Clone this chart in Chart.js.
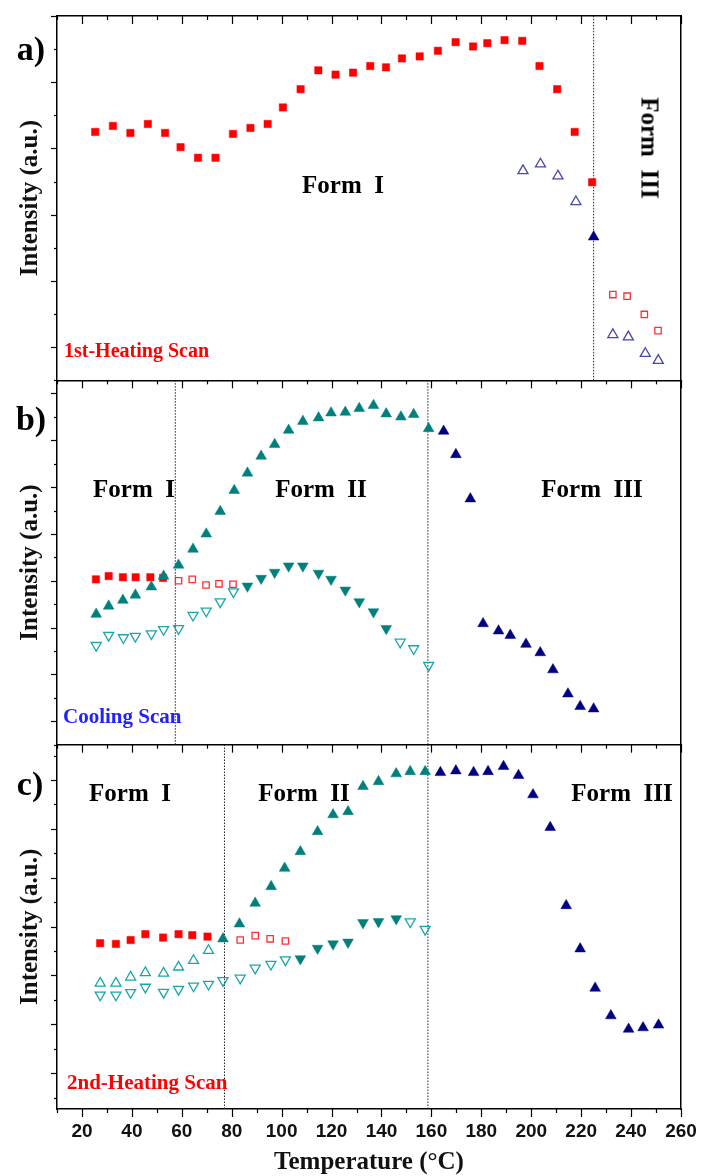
<!DOCTYPE html>
<html><head><meta charset="utf-8">
<script src="https://cdn.jsdelivr.net/npm/chart.js@4.4.1/dist/chart.umd.min.js"></script>
<style>
html,body{margin:0;padding:0;background:#fff;}
#wrap{position:relative;width:702px;height:1176px;overflow:hidden;background:#fff;}
canvas{position:absolute;left:0;top:0;}
.t{position:absolute;font-family:"Liberation Serif","Times New Roman",serif;font-weight:bold;white-space:pre;line-height:1;color:#000;}
.c{transform:translate(-50%,-50%);}
.l{transform:translate(0,-50%);}
</style></head><body>
<div id="wrap">
<canvas id="chart" width="702" height="1176"></canvas>
<div class="t c" style="left:31px;top:49px;font-size:34px">a)</div>
<div class="t c" style="left:31px;top:419px;font-size:34px">b)</div>
<div class="t c" style="left:30px;top:784px;font-size:34px">c)</div>
<div class="t c" style="left:343px;top:184px;font-size:25px">Form  I</div>
<div class="t" style="left:650px;top:148px;font-size:25px;transform:translate(-50%,-50%) rotate(90deg)">Form  III</div>
<div class="t l" style="left:64px;top:350px;font-size:20px;color:#ff0000">1st-Heating Scan</div>
<div class="t c" style="left:134px;top:488px;font-size:25px">Form  I</div>
<div class="t c" style="left:321px;top:488px;font-size:25px">Form  II</div>
<div class="t c" style="left:592px;top:488px;font-size:25px">Form  III</div>
<div class="t l" style="left:63px;top:716px;font-size:21px;color:#2222ff">Cooling Scan</div>
<div class="t c" style="left:130px;top:792px;font-size:25px">Form  I</div>
<div class="t c" style="left:304px;top:792px;font-size:25px">Form  II</div>
<div class="t c" style="left:622px;top:792px;font-size:25px">Form  III</div>
<div class="t l" style="left:67px;top:1082px;font-size:21px;color:#ff0000">2nd-Heating Scan</div>
</div>
<script>
// ---------- x axis ----------
const xMin = 10, xMax = 260, xStep = 10;
// ---------- panel ranges (arbitrary intensity units) ----------
const aRange = [0, 11];
const bRange = [0, 15.56];
const cRange = [-0.47, 14.45];

// ---------- panel a : 1st heating ----------
const aRedT = [25.3,32.4,39.4,46.4,53.3,59.5,66.5,73.5,80.5,87.5,94.4,100.5,107.6,114.7,121.6,128.6,135.5,141.8,148.2,155.3,162.6,169.7,176.7,182.4,189.3,196.4,203.3,210.4,217.4,224.4];
const aRedV = [7.50,7.68,7.47,7.74,7.47,7.04,6.72,6.72,7.44,7.62,7.74,8.24,8.79,9.36,9.23,9.29,9.49,9.45,9.72,9.78,9.95,10.21,10.08,10.18,10.27,10.25,9.49,8.79,7.50,5.98];
const aOpenTriT = [196.7,203.7,210.7,217.9,232.7,238.9,245.7,250.9];
const aOpenTriV = [6.33,6.53,6.17,5.39,1.38,1.31,0.81,0.60];
const aNavyT = [225.0];
const aNavyV = [4.33];
const aOpenSqT = [232.7,238.4,245.3,250.8];
const aOpenSqV = [2.59,2.54,1.99,1.50];
const aLines = [225.0];

// ---------- panel b : cooling ----------
const bRedT = [25.6,30.7,36.4,41.5,47.4,52.5];
const bRedV = [7.06,7.20,7.15,7.15,7.15,7.12];
const bOpenSqT = [58.7,64.2,69.7,74.9,80.5];
const bOpenSqV = [7.00,7.06,6.82,6.87,6.85];
const bTealUpT = [25.7,30.7,36.4,41.4,47.8,52.7,58.7,64.5,69.8,75.4,81.0,86.3,91.8,97.2,102.8,108.5,114.8,119.8,125.5,131.1,136.8,141.9,147.8,152.9,158.9];
const bTealUpV = [5.57,5.92,6.17,6.39,6.74,7.20,7.67,8.35,9.00,9.96,10.86,11.60,12.32,12.82,13.43,13.81,13.96,14.17,14.20,14.36,14.49,14.13,14.00,14.10,13.50];
const bNavyT = [164.9,169.8,175.6,180.7,186.9,191.6,197.9,203.6,208.7,214.7,219.6,225.0];
const bNavyV = [13.39,12.39,10.50,5.17,4.86,4.67,4.29,3.93,3.20,2.17,1.63,1.53];
const bTealDownT = [86.3,91.8,97.2,102.8,108.5,114.8,119.8,125.5,131.1,136.8,141.9];
const bTealDownV = [6.77,7.10,7.36,7.63,7.63,7.32,7.06,6.60,6.10,5.67,4.96];
const bOpenDownT = [25.7,30.7,36.6,41.4,47.8,52.7,58.7,64.5,69.8,75.4,80.7,147.5,152.9,158.9];
const bOpenDownV = [4.24,4.67,4.57,4.63,4.74,4.92,4.96,5.53,5.71,6.10,6.53,4.38,4.10,3.39];
const bLines = [57.4, 158.6];

// ---------- panel c : 2nd heating ----------
const cRedT = [27.3,33.6,39.5,45.4,52.5,58.7,64.2,70.3];
const cRedV = [6.32,6.29,6.45,6.69,6.55,6.69,6.65,6.59];
const cOpenSqT = [83.4,89.4,95.4,101.5];
const cOpenSqV = [6.45,6.63,6.50,6.41];
const cTealUpT = [76.5,83.1,89.4,95.8,101.2,107.5,114.4,120.6,126.6,132.6,138.8,145.9,151.5,157.5];
const cTealUpV = [6.50,7.11,7.96,8.64,9.39,10.07,10.89,11.58,11.71,12.74,12.94,13.26,13.35,13.35];
const cNavyT = [163.6,169.8,176.9,182.7,188.9,194.9,200.7,207.6,214.0,219.6,225.6,231.9,239.0,244.8,251.0];
const cNavyV = [13.31,13.38,13.31,13.35,13.56,13.19,12.40,11.06,7.86,6.09,4.48,3.35,2.80,2.86,2.97];
const cTealDownT = [107.5,114.4,120.6,126.6,132.6,138.8,145.9];
const cTealDownV = [5.68,6.11,6.29,6.36,7.16,7.20,7.32];
const cOpenDownT = [27.3,33.6,39.5,45.4,52.7,58.7,64.7,70.7,76.5,83.4,89.4,95.7,101.5,151.5,157.5];
const cOpenDownV = [4.20,4.20,4.30,4.52,4.31,4.43,4.57,4.64,4.79,4.89,5.30,5.46,5.64,7.20,6.89];
const cOpenUpT = [27.3,33.6,39.5,45.4,52.7,58.7,64.7,70.7];
const cOpenUpV = [4.68,4.68,4.93,5.11,5.09,5.34,5.61,6.02];
const cLines = [77.1, 158.6];

// ---------- styles ----------
const ST = {
  redFilled: {pointStyle:'rect', pointRadius:5.2, pointBackgroundColor:'#ff0000', pointBorderColor:'#ff0000', pointBorderWidth:0.5},
  redOpen:   {pointStyle:'rect', pointRadius:4.5, pointBackgroundColor:'rgba(255,255,255,0)', pointBorderColor:'#ff3030', pointBorderWidth:1.3},
  tealUp:    {pointStyle:'triangle', pointRadius:6.2, pointBackgroundColor:'#00807c', pointBorderColor:'#00807c', pointBorderWidth:0.5},
  tealDown:  {pointStyle:'triangle', pointRotation:180, pointRadius:6.2, pointBackgroundColor:'#00807c', pointBorderColor:'#00807c', pointBorderWidth:0.5},
  navyUp:    {pointStyle:'triangle', pointRadius:6.2, pointBackgroundColor:'#000080', pointBorderColor:'#000080', pointBorderWidth:0.5},
  tealOpenUp:{pointStyle:'triangle', pointRadius:5.8, pointBackgroundColor:'rgba(255,255,255,0)', pointBorderColor:'#1ea6a6', pointBorderWidth:1.3},
  tealOpenDown:{pointStyle:'triangle', pointRotation:180, pointRadius:5.8, pointBackgroundColor:'rgba(255,255,255,0)', pointBorderColor:'#1ea6a6', pointBorderWidth:1.3},
  slateOpenUp:{pointStyle:'triangle', pointRadius:5.8, pointBackgroundColor:'rgba(255,255,255,0)', pointBorderColor:'#4848a8', pointBorderWidth:1.3}
};

function pts(t, v){ return t.map((x, i) => ({x: x, y: v[i]})); }
function ds(label, t, v, axis, style){
  return Object.assign({label: label, data: pts(t, v), yAxisID: axis, xAxisID: 'x', showLine: false, order: 1, clip: false}, style);
}
function vline(x, axis, range){
  return {label: 'guide', data: [{x: x, y: range[0]}, {x: x, y: range[1]}], yAxisID: axis, xAxisID: 'x',
    showLine: true, pointRadius: 0, borderColor: '#222', borderWidth: 1, borderDash: [1.5, 1.5], order: 10, clip: false};
}

const datasets = [
  ...aLines.map(x => vline(x, 'ya', aRange)),
  ...bLines.map(x => vline(x, 'yb', bRange)),
  ...cLines.map(x => vline(x, 'yc', cRange)),
  ds('a red', aRedT, aRedV, 'ya', ST.redFilled),
  ds('a open tri', aOpenTriT, aOpenTriV, 'ya', ST.slateOpenUp),
  ds('a navy', aNavyT, aNavyV, 'ya', ST.navyUp),
  ds('a open sq', aOpenSqT, aOpenSqV, 'ya', ST.redOpen),
  ds('b teal up', bTealUpT, bTealUpV, 'yb', ST.tealUp),
  ds('b red', bRedT, bRedV, 'yb', ST.redFilled),
  ds('b open sq', bOpenSqT, bOpenSqV, 'yb', ST.redOpen),
  ds('b navy', bNavyT, bNavyV, 'yb', ST.navyUp),
  ds('b teal down', bTealDownT, bTealDownV, 'yb', ST.tealDown),
  ds('b open down', bOpenDownT, bOpenDownV, 'yb', ST.tealOpenDown),
  ds('c teal up', cTealUpT, cTealUpV, 'yc', ST.tealUp),
  ds('c red', cRedT, cRedV, 'yc', ST.redFilled),
  ds('c open sq', cOpenSqT, cOpenSqV, 'yc', ST.redOpen),
  ds('c navy', cNavyT, cNavyV, 'yc', ST.navyUp),
  ds('c teal down', cTealDownT, cTealDownV, 'yc', ST.tealDown),
  ds('c open down', cOpenDownT, cOpenDownV, 'yc', ST.tealOpenDown),
  ds('c open up', cOpenUpT, cOpenUpV, 'yc', ST.tealOpenUp)
];

const serif = '"Liberation Serif","Times New Roman",serif';
const sans = '"Liberation Sans",Arial,sans-serif';

// tick marks (major / minor) drawn from the library's own scales
const tickMarks = {
  id: 'tickMarks',
  afterDraw(chart) {
    const ctx = chart.ctx;
    const xs = chart.scales.x;
    ctx.save();
    ctx.strokeStyle = '#000';
    ctx.lineWidth = 1.2;
    ctx.setLineDash([]);
    const edges = [chart.scales.ya.top, chart.scales.yb.top, chart.scales.yc.top, chart.scales.yc.bottom];
    xs.ticks.forEach(t => {
      const px = Math.round(xs.getPixelForValue(t.value)) + 0.5;
      const len = (Math.round(t.value) % 20 === 0) ? 8 : 4;
      edges.forEach(y => {
        ctx.beginPath(); ctx.moveTo(px, y); ctx.lineTo(px, y + len); ctx.stroke();
      });
    });
    ['ya', 'yb', 'yc'].forEach(id => {
      const s = chart.scales[id];
      s.ticks.forEach(t => {
        const py = Math.round(s.getPixelForValue(t.value)) + 0.5;
        const len = (Math.abs(Math.round(t.value)) % 2 === 1) ? 6 : 3;
        ctx.beginPath(); ctx.moveTo(s.right, py); ctx.lineTo(s.right - len, py); ctx.stroke();
      });
    });
    ctx.restore();
  }
};

function xAxisCommon(extra){
  return Object.assign({
    type: 'linear', min: xMin, max: xMax,
    ticks: {stepSize: xStep, display: false, maxTicksLimit: 100},
    grid: {drawOnChartArea: false, drawTicks: false, lineWidth: 1},
    border: {display: true, color: '#000', width: 1.5}
  }, extra);
}
function yAxis(range, w){
  return {
    type: 'linear', position: 'left', stack: 'panels', stackWeight: 1, weight: w,
    min: range[0], max: range[1], offset: false,
    ticks: {display: false, stepSize: 1, includeBounds: false, maxTicksLimit: 100},
    grid: {drawOnChartArea: false, drawTicks: true, tickLength: 6, tickColor: 'rgba(0,0,0,0)', lineWidth: 1},
    border: {display: true, color: '#000', width: 1.5},
    title: {display: true, text: 'Intensity (a.u.)', color: '#111',
      font: {family: serif, size: 25, weight: 'bold', lineHeight: 1}, padding: {top: 0, bottom: 8}}
  };
}

new Chart(document.getElementById('chart'), {
  type: 'scatter',
  data: {datasets: datasets},
  plugins: [tickMarks],
  options: {
    responsive: false, animation: false, devicePixelRatio: 1,
    layout: {padding: {left: 18, right: 21, top: 16, bottom: 0}},
    plugins: {legend: {display: false}, tooltip: {enabled: false}},
    scales: {
      x: xAxisCommon({
        position: 'bottom',
        grid: {drawOnChartArea: false, drawTicks: true, tickLength: 8, tickColor: 'rgba(0,0,0,0)', lineWidth: 1},
        ticks: {stepSize: xStep, display: true, maxTicksLimit: 100, autoSkip: false, maxRotation: 0, padding: 3,
          color: '#111', font: {family: sans, size: 19, weight: 'bold'},
          callback: v => (Math.round(v) % 20 === 0 ? String(v) : '')},
        title: {display: true, text: 'Temperature (\u00B0C)', color: '#111',
          font: {family: serif, size: 25, weight: 'bold', lineHeight: 1}, padding: {top: 4.7, bottom: 0.5}}
      }),
      xa: xAxisCommon({position: {ya: aRange[1]}}),
      xb: xAxisCommon({position: {yb: bRange[1]}}),
      xc: xAxisCommon({position: {yc: cRange[1]}}),
      ya: yAxis(aRange, 3),
      yb: yAxis(bRange, 2),
      yc: yAxis(cRange, 1),
      yr: {type: 'linear', position: {x: xMax}, min: 0, max: 1,
        ticks: {display: false}, grid: {drawOnChartArea: false, drawTicks: false},
        border: {display: true, color: '#000', width: 1.5}}
    }
  }
});
</script>
</body></html>
